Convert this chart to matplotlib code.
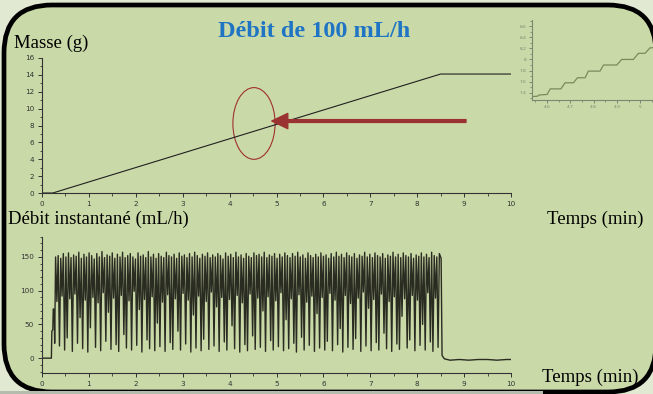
import matplotlib
matplotlib.use("Agg")
import matplotlib.pyplot as plt
import numpy as np
from matplotlib.patches import FancyBboxPatch, Rectangle, Ellipse
from matplotlib.ticker import MultipleLocator

# --- masse (g) en fonction du temps (min)
masse_t = [0.0, 0.23, 8.5, 10.0]
masse_v = [0.0, 0.0, 14.1, 14.1]

# --- zoom : escalier de la masse entre 4.5 et 5.05 min
zoom_t = [4.535, 4.56, 4.565, 4.60, 4.613, 4.659, 4.677, 4.713, 4.730, 4.763,
          4.777, 4.827, 4.842, 4.899, 4.920, 4.970, 4.992, 5.020, 5.042, 5.065]
zoom_v = [7.33, 7.34, 7.36, 7.37, 7.47, 7.47, 7.58, 7.58, 7.67, 7.67,
          7.79, 7.79, 7.90, 7.90, 8.00, 8.00, 8.11, 8.11, 8.21, 8.21]

# --- debit instantane (mL/h)
debut_t = [0.0, 0.20, 0.21, 0.23, 0.24, 0.26, 0.27]
debut_v = [0, 0, 40, 42, 73, 72, 22]

debit_v = [
    150, 84, 152, 18, 148, 92, 155, 12, 150, 30, 156, 88, 149, 10, 153, 95, 151, 22, 157, 60,
    148, 14, 154, 86, 150, 9, 156, 45, 152, 90, 147, 16, 155, 82, 150, 11, 158, 97, 149, 25,
    153, 68, 151, 13, 156, 89, 148, 20, 154, 10, 150, 93, 157, 35, 149, 15, 152, 85, 155, 12,
    150, 99, 147, 19, 156, 72, 151, 9, 153, 87, 149, 27, 158, 14, 150, 91, 154, 11, 148, 52,
    155, 17, 151, 83, 149, 10, 157, 94, 152, 23, 150, 13, 154, 88, 148, 40, 156, 12, 151, 96,
    153, 21, 149, 86, 155, 9, 150, 64, 157, 15, 152, 92, 148, 11, 154, 28, 151, 84, 156, 13,
    149, 98, 153, 18, 150, 76, 155, 10, 152, 90, 147, 24, 156, 12, 151, 87, 154, 48, 149, 14,
    157, 93, 150, 9, 153, 82, 148, 20, 155, 11, 151, 95, 149, 33, 156, 13, 152, 89, 154, 16,
    150, 70, 157, 10, 149, 91, 153, 26, 151, 12, 155, 85, 148, 17, 154, 97, 150, 11, 156, 57,
    152, 14, 149, 88, 155, 22, 151, 9, 157, 94, 150, 31, 153, 12, 148, 83, 156, 19, 152, 92,
    149, 10, 154, 66, 150, 15, 156, 90, 151, 12, 153, 25, 148, 96, 155, 11, 150, 86, 157, 20,
    151, 44, 154, 9, 149, 93, 156, 16, 152, 81, 150, 13, 155, 29, 148, 89, 153, 10, 151, 98,
    157, 18, 150, 74, 154, 11, 149, 87, 156, 23, 152, 12, 150, 95, 155, 37, 148, 14, 153, 84,
    151, 10, 157, 91, 150, 21, 154, 13, 149, 62, 156, 88, 152, 15, 150, 27, 155, 93, 148, 11,
    153, 86, 151, 19, 156, 50, 150, 12, 154, 97, 149, 24, 157, 10, 152, 89, 150, 16, 155, 150,
]
debit_debut, debit_fin = 0.29, 8.50

fin_t = [8.51, 8.53, 8.58, 8.70, 8.90, 9.10, 9.30, 9.50, 9.70, 9.90, 10.0]
fin_v = [148, 4, -1, -3, -2, -3, -2, -2, -3, -2, -2]

titre = "Débit de 100 mL/h"

VERT = "#cad9a8"
FOND = "#e1e9d3"
SERIF = "Liberation Serif"


def style_axes(ax, col="#333333", lab=5.2):
    ax.set_facecolor("none")
    for s in ["top", "right"]:
        ax.spines[s].set_visible(False)
    for s in ["left", "bottom"]:
        ax.spines[s].set_color(col)
        ax.spines[s].set_linewidth(0.8)
    ax.tick_params(which="major", direction="out", length=3.2, width=0.7,
                   colors=col, labelsize=lab, pad=2.5)
    ax.tick_params(which="minor", direction="out", length=1.8, width=0.6, colors=col)


def main():
    fig = plt.figure(figsize=(6.53, 3.94), dpi=100)
    fig.patch.set_facecolor(FOND)

    # fond en pixels
    bg = fig.add_axes([0, 0, 1, 1])
    bg.set_xlim(0, 653)
    bg.set_ylim(394, 0)
    bg.axis("off")
    bg.add_patch(FancyBboxPatch((4, 5), 652, 387, boxstyle="round,pad=0,rounding_size=48",
                                fc=VERT, ec="black", lw=3.4))
    bg.add_patch(Rectangle((0, 391), 543, 3, fc="#b4bcae", ec="none"))

    bg.text(314, 31, titre, ha="center", va="center", color="#1f74c4",
            fontsize=17.5, fontweight="bold", family=SERIF)
    bg.text(14, 43, "Masse (g)", ha="left", va="center", fontsize=13.5, family=SERIF)
    bg.text(8, 219, "Débit instantané (mL/h)", ha="left", va="center", fontsize=13.5, family=SERIF)
    bg.text(547, 219, "Temps (min)", ha="left", va="center", fontsize=13.5, family=SERIF)
    bg.text(542, 377, "Temps (min)", ha="left", va="center", fontsize=13.5, family=SERIF)

    # masse
    ax1 = fig.add_axes([42 / 653, 1 - 193 / 394, 469 / 653, 135 / 394])
    style_axes(ax1)
    ax1.plot(masse_t, masse_v, color="#202020", lw=0.8)
    ax1.set_xlim(0, 10)
    ax1.set_ylim(0, 16)
    ax1.set_xticks(range(0, 11))
    ax1.set_yticks(range(0, 17, 2))
    ax1.xaxis.set_minor_locator(MultipleLocator(0.5))
    ax1.yaxis.set_minor_locator(MultipleLocator(1))
    ax1.add_patch(Ellipse((4.52, 8.24), 0.9, 8.5, fc="none", ec="#a03030", lw=0.8))
    ax1.annotate("", xy=(4.9, 8.53), xytext=(9.04, 8.53),
                 arrowprops=dict(width=2, headwidth=11, headlength=11.5,
                                 color="#9b3232", shrink=0))

    # debit
    ax2 = fig.add_axes([42 / 653, 1 - 373 / 394, 469 / 653, 136.3 / 394])
    style_axes(ax2)
    t_main = np.linspace(debit_debut, debit_fin, len(debit_v))
    t = np.concatenate([debut_t, t_main, fin_t])
    v = np.concatenate([debut_v, debit_v, fin_v])
    ax2.plot(t, v, color="#2a2c22", lw=1.0)
    ax2.set_xlim(0, 10)
    ax2.set_ylim(-22, 180)
    ax2.set_xticks(range(0, 11))
    ax2.set_yticks([0, 50, 100, 150])
    ax2.xaxis.set_minor_locator(MultipleLocator(0.5))
    ax2.yaxis.set_minor_locator(MultipleLocator(10))

    # zoom
    ax3 = fig.add_axes([532 / 653, 1 - 100 / 394, 123 / 653, 80 / 394])
    style_axes(ax3, col="#7d8670", lab=3.2)
    ax3.plot(zoom_t, zoom_v, color="#7b8a5c", lw=0.9)
    ax3.set_xlim(4.535, 5.063)
    ax3.set_ylim(7.27, 8.71)
    ax3.set_xticks([4.6, 4.7, 4.8, 4.9, 5.0])
    ax3.set_xticklabels(["4.6", "4.7", "4.8", "4.9", "5"])
    ax3.set_yticks([7.4, 7.6, 7.8, 8.0, 8.2, 8.4, 8.6])
    ax3.set_yticklabels(["7.4", "7.6", "7.8", "8", "8.2", "8.4", "8.6"])
    ax3.xaxis.set_minor_locator(MultipleLocator(0.05))
    ax3.yaxis.set_minor_locator(MultipleLocator(0.1))
    ax3.tick_params(which="major", length=2.2, pad=1.5)
    ax3.tick_params(which="minor", length=1.2)

    fig.savefig("out.png", dpi=100, facecolor=FOND)


if __name__ == '__main__':
    main()
